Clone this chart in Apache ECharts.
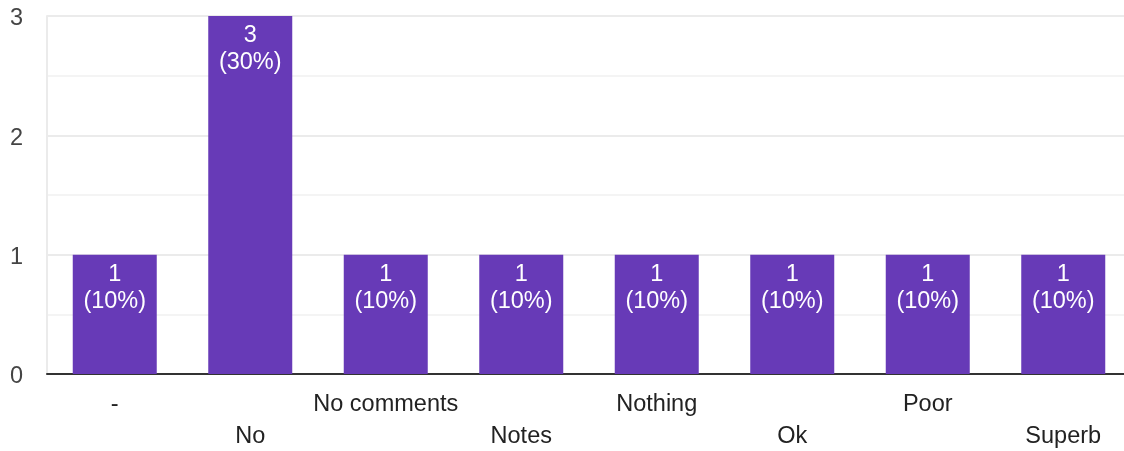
<!DOCTYPE html>
<html>
<head>
<meta charset="utf-8">
<script src="https://cdn.jsdelivr.net/npm/echarts@6/dist/echarts.min.js"></script>
<style>html,body{margin:0;padding:0;background:#fff;overflow:hidden}#c{width:1131px;height:451px}</style>
</head>
<body>
<div id="c"></div>
<script>
const categories = ['-', 'No', 'No comments', 'Notes', 'Nothing', 'Ok', 'Poor', 'Superb'];
const counts = [1, 3, 1, 1, 1, 1, 1, 1];
const percents = [10, 30, 10, 10, 10, 10, 10, 10];
const yTicks = [0, 1, 2, 3];

const FONT = 'Arial, "Liberation Sans", sans-serif';
const chart = echarts.init(document.getElementById('c'), null, {renderer: 'canvas'});
chart.setOption({
  animation: false,
  backgroundColor: '#fff',
  grid: {left: 47, right: 0, top: 16, bottom: 77, containLabel: false, outerBoundsMode: 'none'},
  xAxis: {
    type: 'category',
    data: categories,
    axisLine: {show: true, lineStyle: {color: '#333', width: 2}},
    axisTick: {show: false},
    axisLabel: {
      interval: 0,
      color: '#222',
      fontSize: 23.5,
      fontFamily: FONT,
      lineHeight: 32,
      margin: 15,
      formatter: function (v, i) { return i % 2 === 1 ? '\n' + v : v; }
    }
  },
  yAxis: {
    type: 'value',
    min: yTicks[0],
    max: yTicks[yTicks.length - 1],
    interval: 1,
    axisLine: {show: true, lineStyle: {color: '#ebebeb', width: 2}},
    axisTick: {show: false},
    axisLabel: {color: '#444', fontSize: 23.5, fontFamily: FONT, margin: 24, verticalAlign: 'top', lineHeight: 6},
    splitLine: {show: true, lineStyle: {color: '#ebebeb', width: 2}},
    minorTick: {show: false, splitNumber: 2},
    minorSplitLine: {show: true, lineStyle: {color: '#f4f4f4', width: 2}}
  },
  series: [{
    type: 'bar',
    data: counts,
    barWidth: 84,
    itemStyle: {color: '#673ab7'},
    label: {
      show: true,
      position: 'insideTop',
      distance: 6,
      color: '#fff',
      fontSize: 23.5,
      lineHeight: 27,
      fontFamily: FONT,
      formatter: function (p) { return counts[p.dataIndex] + '\n(' + percents[p.dataIndex] + '%)'; }
    }
  }]
});
</script>
</body>
</html>
